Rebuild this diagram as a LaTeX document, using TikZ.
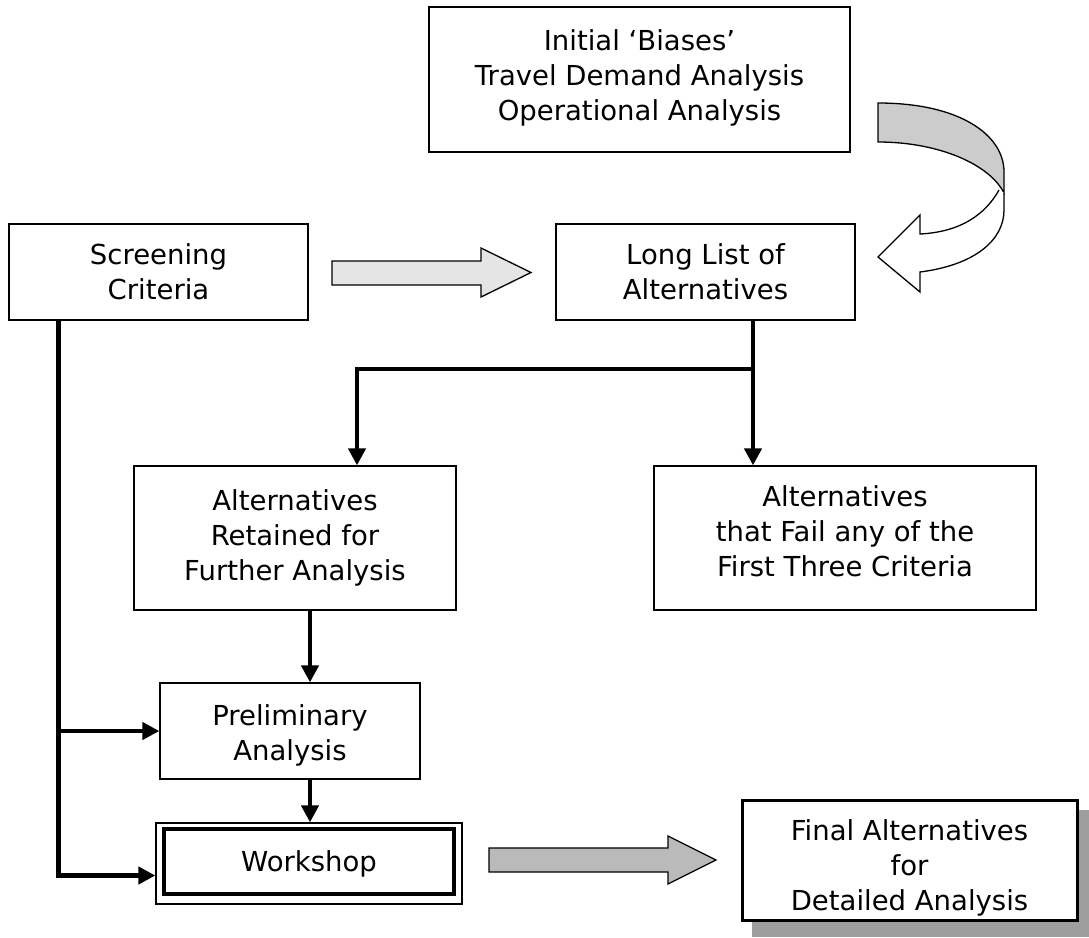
\documentclass[tikz,border=0pt]{standalone}
\usepackage{fontspec}
\setmainfont{DejaVu Sans}
\usetikzlibrary{arrows.meta,calc}
\begin{document}
\begin{tikzpicture}[x=1pt,y=-1pt,
  box/.style={draw, line width=1.3pt, align=center, inner sep=0pt, fill=white,
    font=\fontsize{27.5}{35}\selectfont},
  conn/.style={line width=4.5pt, -{Triangle[length=17pt,width=17pt]}},
  blockarrow/.style={draw, line width=1.3pt, line join=miter},
]
\useasboundingbox (0,0) rectangle (1089,937);

% shadow of final box
\fill[black!38] (752,810) rectangle (1089,937);

% boxes
\node[box, minimum width=421pt, minimum height=145pt] (top) at (639.5,79.5)
  {Initial ‘Biases’\\Travel Demand Analysis\\Operational Analysis\rule[-9pt]{0pt}{0pt}};
\node[box, minimum width=299pt, minimum height=96pt] (screen) at (158.5,272)
  {Screening\\Criteria};
\node[box, minimum width=299pt, minimum height=96pt] (long) at (705.5,272)
  {Long List of\\Alternatives};
\node[box, minimum width=322pt, minimum height=144pt] (retained) at (295,538)
  {Alternatives\\Retained for\\Further Analysis\rule[-5pt]{0pt}{0pt}};
\node[box, minimum width=382pt, minimum height=144pt] (fail) at (845,538)
  {Alternatives\\that Fail any of the\\First Three Criteria\rule[-13pt]{0pt}{0pt}};
\node[box, minimum width=260pt, minimum height=96pt] (prelim) at (290,731)
  {\rule{0pt}{29pt}Preliminary\\Analysis};
\node[box, minimum width=306pt, minimum height=81pt] (workshop) at (309,863.5)
  {Workshop};
\draw[line width=4pt] ([shift={(9pt,10.5pt)}]workshop.south west)
  rectangle ([shift={(-9pt,-7pt)}]workshop.north east);
\node[box, line width=3pt, minimum width=335pt, minimum height=120pt] (final) at (909.5,860)
  {\rule{0pt}{37pt}Final Alternatives\\for\\Detailed Analysis};

% connectors
\coordinate (sbase) at ([xshift=50pt]screen.south west);
\coordinate (lsplit) at (753,369);
\draw[conn] (sbase) |- ([yshift=-12pt]workshop.west);
\draw[conn] (sbase |- prelim.west) -- (prelim.west);
\draw[conn] (lsplit |- long.south) -- (lsplit |- fail.north);
\draw[conn] (lsplit) -| ([xshift=62pt]retained.north);
\draw[conn] ([xshift=15pt]retained.south) -- ([xshift=20pt]prelim.north);
\draw[conn] ([xshift=20pt]prelim.south) -- ([xshift=1pt]workshop.north);

% block arrows
\draw[blockarrow, fill=black!10] (332,261) -- (481,261) -- (481,248) -- (531,272.5)
  -- (481,297) -- (481,285) -- (332,285) -- cycle;
\draw[blockarrow, fill=black!27] (489,848) -- (668,848) -- (668,836) -- (716,860)
  -- (668,884) -- (668,872) -- (489,872) -- cycle;

% curved arrow from top box to long list
\draw[blockarrow, fill=black!20] (878,103) .. controls (960,103) and (1004,135) .. (1004,172)
  -- (1004,193) .. controls (990,165) and (940,142) .. (878,142) -- cycle;
\draw[blockarrow, fill=white] (999,190) .. controls (985,215) and (960,232) .. (920,234)
  -- (920,215) -- (878,257) -- (920,292) -- (920,272)
  .. controls (975,265) and (1004,240) .. (1004,210) -- (1004,193);
\end{tikzpicture}
\end{document}
